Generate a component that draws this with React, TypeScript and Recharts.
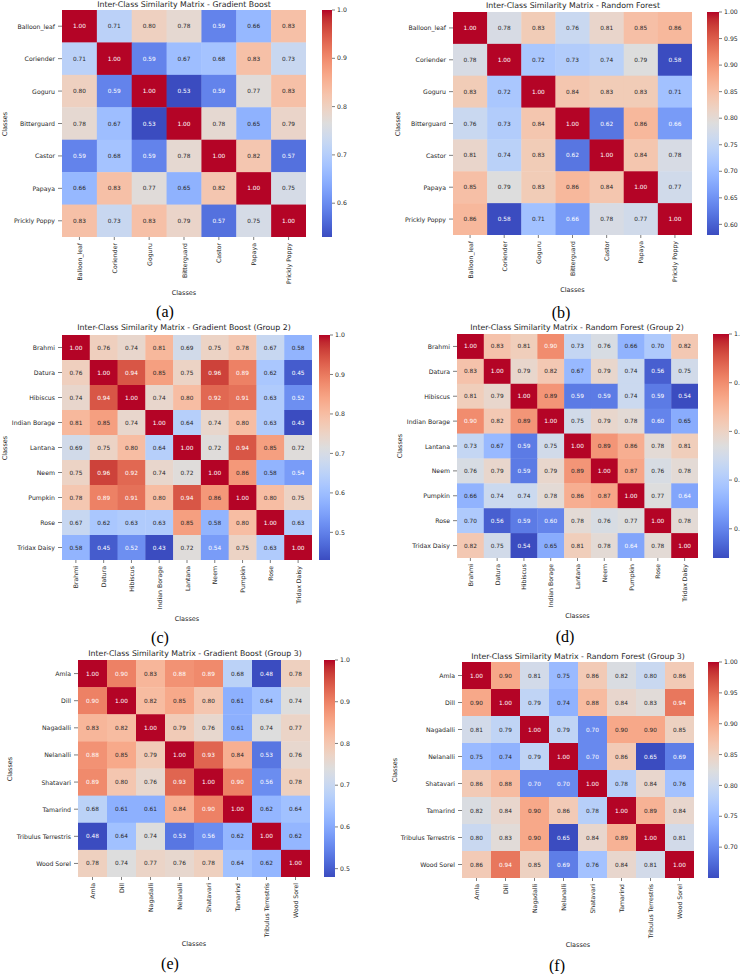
import React from "react";
import { ScatterChart, Scatter, XAxis, YAxis, BarChart, Bar } from "recharts";

// class names per plant group
const leafClasses = ["Balloon_leaf", "Coriender", "Goguru", "Bitterguard", "Castor", "Papaya", "Prickly Poppy"];
const flowerClasses = ["Brahmi", "Datura", "Hibiscus", "Indian Borage", "Lantana", "Neem", "Pumpkin", "Rose", "Tridax Daisy"];
const herbClasses = ["Amla", "Dill", "Nagadalli", "Nelanalli", "Shatavari", "Tamarind", "Tribulus Terrestris", "Wood Sorel"];

// similarity matrices (row = class, column = class)
const gbLeaf = [
  [1.0, 0.71, 0.8, 0.78, 0.59, 0.66, 0.83],
  [0.71, 1.0, 0.59, 0.67, 0.68, 0.83, 0.73],
  [0.8, 0.59, 1.0, 0.53, 0.59, 0.77, 0.83],
  [0.78, 0.67, 0.53, 1.0, 0.78, 0.65, 0.79],
  [0.59, 0.68, 0.59, 0.78, 1.0, 0.82, 0.57],
  [0.66, 0.83, 0.77, 0.65, 0.82, 1.0, 0.75],
  [0.83, 0.73, 0.83, 0.79, 0.57, 0.75, 1.0],
];
const rfLeaf = [
  [1.0, 0.78, 0.83, 0.76, 0.81, 0.85, 0.86],
  [0.78, 1.0, 0.72, 0.73, 0.74, 0.79, 0.58],
  [0.83, 0.72, 1.0, 0.84, 0.83, 0.83, 0.71],
  [0.76, 0.73, 0.84, 1.0, 0.62, 0.86, 0.66],
  [0.81, 0.74, 0.83, 0.62, 1.0, 0.84, 0.78],
  [0.85, 0.79, 0.83, 0.86, 0.84, 1.0, 0.77],
  [0.86, 0.58, 0.71, 0.66, 0.78, 0.77, 1.0],
];
const gbFlower = [
  [1.0, 0.76, 0.74, 0.81, 0.69, 0.75, 0.78, 0.67, 0.58],
  [0.76, 1.0, 0.94, 0.85, 0.75, 0.96, 0.89, 0.62, 0.45],
  [0.74, 0.94, 1.0, 0.74, 0.8, 0.92, 0.91, 0.63, 0.52],
  [0.81, 0.85, 0.74, 1.0, 0.64, 0.74, 0.8, 0.63, 0.43],
  [0.69, 0.75, 0.8, 0.64, 1.0, 0.72, 0.94, 0.85, 0.72],
  [0.75, 0.96, 0.92, 0.74, 0.72, 1.0, 0.86, 0.58, 0.54],
  [0.78, 0.89, 0.91, 0.8, 0.94, 0.86, 1.0, 0.8, 0.75],
  [0.67, 0.62, 0.63, 0.63, 0.85, 0.58, 0.8, 1.0, 0.63],
  [0.58, 0.45, 0.52, 0.43, 0.72, 0.54, 0.75, 0.63, 1.0],
];
const rfFlower = [
  [1.0, 0.83, 0.81, 0.9, 0.73, 0.76, 0.66, 0.7, 0.82],
  [0.83, 1.0, 0.79, 0.82, 0.67, 0.79, 0.74, 0.56, 0.75],
  [0.81, 0.79, 1.0, 0.89, 0.59, 0.59, 0.74, 0.59, 0.54],
  [0.9, 0.82, 0.89, 1.0, 0.75, 0.79, 0.78, 0.6, 0.65],
  [0.73, 0.67, 0.59, 0.75, 1.0, 0.89, 0.86, 0.78, 0.81],
  [0.76, 0.79, 0.59, 0.79, 0.89, 1.0, 0.87, 0.76, 0.78],
  [0.66, 0.74, 0.74, 0.78, 0.86, 0.87, 1.0, 0.77, 0.64],
  [0.7, 0.56, 0.59, 0.6, 0.78, 0.76, 0.77, 1.0, 0.78],
  [0.82, 0.75, 0.54, 0.65, 0.81, 0.78, 0.64, 0.78, 1.0],
];
const gbHerb = [
  [1.0, 0.9, 0.83, 0.88, 0.89, 0.68, 0.48, 0.78],
  [0.9, 1.0, 0.82, 0.85, 0.8, 0.61, 0.64, 0.74],
  [0.83, 0.82, 1.0, 0.79, 0.76, 0.61, 0.74, 0.77],
  [0.88, 0.85, 0.79, 1.0, 0.93, 0.84, 0.53, 0.76],
  [0.89, 0.8, 0.76, 0.93, 1.0, 0.9, 0.56, 0.78],
  [0.68, 0.61, 0.61, 0.84, 0.9, 1.0, 0.62, 0.64],
  [0.48, 0.64, 0.74, 0.53, 0.56, 0.62, 1.0, 0.62],
  [0.78, 0.74, 0.77, 0.76, 0.78, 0.64, 0.62, 1.0],
];
const rfHerb = [
  [1.0, 0.9, 0.81, 0.75, 0.86, 0.82, 0.8, 0.86],
  [0.9, 1.0, 0.79, 0.74, 0.88, 0.84, 0.83, 0.94],
  [0.81, 0.79, 1.0, 0.79, 0.7, 0.9, 0.9, 0.85],
  [0.75, 0.74, 0.79, 1.0, 0.7, 0.86, 0.65, 0.69],
  [0.86, 0.88, 0.7, 0.7, 1.0, 0.78, 0.84, 0.76],
  [0.82, 0.84, 0.9, 0.86, 0.78, 1.0, 0.89, 0.84],
  [0.8, 0.83, 0.9, 0.65, 0.84, 0.89, 1.0, 0.81],
  [0.86, 0.94, 0.85, 0.69, 0.76, 0.84, 0.81, 1.0],
];

// colorbar tick values
const cbTicksA = [0.6, 0.7, 0.8, 0.9, 1.0];
const cbTicksB = [0.6, 0.65, 0.7, 0.75, 0.8, 0.85, 0.9, 0.95, 1.0];
const cbTicksC = [0.5, 0.6, 0.7, 0.8, 0.9, 1.0];
const cbTicksD = [0.6, 0.7, 0.8, 0.9, 1.0];
const cbTicksE = [0.5, 0.6, 0.7, 0.8, 0.9, 1.0];
const cbTicksF = [0.7, 0.75, 0.8, 0.85, 0.9, 0.95, 1.0];

const panels = [
  { id: "a", title: "Inter-Class Similarity Matrix - Gradient Boost", classes: leafClasses, matrix: gbLeaf, cbTicks: cbTicksA, digits: 1 },
  { id: "b", title: "Inter-Class Similarity Matrix - Random Forest", classes: leafClasses, matrix: rfLeaf, cbTicks: cbTicksB, digits: 2 },
  { id: "c", title: "Inter-Class Similarity Matrix - Gradient Boost (Group 2)", classes: flowerClasses, matrix: gbFlower, cbTicks: cbTicksC, digits: 1 },
  { id: "d", title: "Inter-Class Similarity Matrix - Random Forest (Group 2)", classes: flowerClasses, matrix: rfFlower, cbTicks: cbTicksD, digits: 1 },
  { id: "e", title: "Inter-Class Similarity Matrix - Gradient Boost (Group 3)", classes: herbClasses, matrix: gbHerb, cbTicks: cbTicksE, digits: 1 },
  { id: "f", title: "Inter-Class Similarity Matrix - Random Forest (Group 3)", classes: herbClasses, matrix: rfHerb, cbTicks: cbTicksF, digits: 2 },
];

// page placement of each panel: heat = [left, top, right, bottom], cb = [left, right]
const layout: Record<string, any> = {
  a: { heat: [62, 10, 306, 237], cb: [322, 332], title: [184, 5], xlabelY: 293, ylabelX: 5, cap: [165, 312] },
  b: { heat: [453, 12, 692, 235], cb: [707, 719], title: [573, 6], xlabelY: 290, ylabelX: 398, cap: [561, 313] },
  c: { heat: [62, 335, 312, 560], cb: [319, 330], title: [184, 328], xlabelY: 619, ylabelX: 5, cap: [160, 638] },
  d: { heat: [457, 334, 698, 558], cb: [713, 729], title: [577, 328], xlabelY: 616, ylabelX: 400, cap: [565, 637] },
  e: { heat: [78, 660, 310, 877], cb: [324, 335], title: [195, 654], xlabelY: 944, ylabelX: 10, cap: [170, 964] },
  f: { heat: [462, 662, 694, 878], cb: [708, 719], title: [578, 657], xlabelY: 945, ylabelX: 395, cap: [557, 966] },
};

// matplotlib "coolwarm" lookup
const COOLWARM = [
  [59, 76, 192], [68, 90, 204], [77, 104, 215], [87, 117, 225], [98, 130, 234], [108, 142, 241],
  [119, 154, 247], [130, 165, 251], [141, 176, 254], [152, 185, 255], [163, 194, 255], [174, 201, 253],
  [184, 208, 249], [194, 213, 244], [204, 217, 238], [213, 219, 230], [221, 221, 221], [229, 216, 209],
  [236, 211, 197], [241, 204, 184], [245, 196, 173], [247, 187, 160], [247, 177, 148], [247, 166, 135],
  [244, 154, 123], [241, 141, 111], [236, 127, 99], [229, 112, 88], [222, 96, 77], [213, 80, 66],
  [203, 62, 56], [192, 40, 47], [180, 4, 38],
];

const coolwarmRgb = (t: number) => {
  const c = Math.max(0, Math.min(1, t)) * (COOLWARM.length - 1);
  const i = Math.min(Math.floor(c), COOLWARM.length - 2);
  const f = c - i;
  return COOLWARM[i].map((v, k) => v + (COOLWARM[i + 1][k] - v) * f);
};
const rgbStr = (rgb: number[]) => `rgb(${rgb.map((v) => Math.round(v)).join(",")})`;

// seaborn picks white or dark annotation text by luminance
const luminance = (rgb: number[]) => {
  const lin = rgb.map((v) => {
    const s = v / 255;
    return s <= 0.03928 ? s / 12.92 : Math.pow((s + 0.055) / 1.055, 2.4);
  });
  return 0.2126 * lin[0] + 0.7152 * lin[1] + 0.0722 * lin[2];
};

const FONT = "'DejaVu Sans', sans-serif";
const TXT = "#262626";
const YAXIS_W = 70;
const XAXIS_H = 64;
const CB_AXIS_W = 34;
const CB_PAD = 6;

const Heatmap = ({ p }: { p: (typeof panels)[number] }) => {
  const L = layout[p.id];
  const [hl, ht, hr, hb] = L.heat;
  const n = p.classes.length;
  const hw = hr - hl;
  const hh = hb - ht;
  const cw = hw / n;
  const ch = hh / n;
  const all = p.matrix.flat();
  const vmin = Math.min(...all);
  const vmax = Math.max(...all);
  const cells = p.matrix.flatMap((row, r) => row.map((v, c) => ({ x: c, y: r, v })));
  const idx = p.classes.map((_, i) => i);
  const gradId = `cw-${p.id}`;

  const cellShape = (props: any) => {
    const { cx, cy, payload } = props;
    const rgb = coolwarmRgb((payload.v - vmin) / (vmax - vmin));
    const txt = luminance(rgb) > 0.408 ? TXT : "#ffffff";
    return (
      <g>
        <rect x={cx - cw / 2} y={cy - ch / 2} width={cw + 0.4} height={ch + 0.4} fill={rgbStr(rgb)} />
        <text x={cx} y={cy} textAnchor="middle" dominantBaseline="central" fontSize={5.8} fontFamily={FONT} fill={txt}>
          {payload.v.toFixed(2)}
        </text>
      </g>
    );
  };

  const xTick = (props: any) => {
    const { x, y, payload } = props;
    return (
      <g transform={`translate(${x},${y})`}>
        <text transform="rotate(-90)" textAnchor="end" dominantBaseline="central" fontSize={6.2} fontFamily={FONT} fill={TXT}>
          {p.classes[payload.value]}
        </text>
      </g>
    );
  };

  const yTick = (props: any) => {
    const { x, y, payload } = props;
    return (
      <text x={x} y={y} textAnchor="end" dominantBaseline="central" fontSize={6.2} fontFamily={FONT} fill={TXT}>
        {p.classes[payload.value]}
      </text>
    );
  };

  const center: React.CSSProperties = {
    position: "absolute",
    whiteSpace: "nowrap",
    lineHeight: 1,
    fontFamily: FONT,
    color: TXT,
  };

  return (
    <>
      <div style={{ ...center, left: L.title[0], top: L.title[1], fontSize: 7.8, transform: "translate(-50%,-50%)" }}>{p.title}</div>
      <div style={{ ...center, left: (hl + hr) / 2, top: L.xlabelY, fontSize: 6.5, transform: "translate(-50%,-50%)" }}>Classes</div>
      <div
        style={{ ...center, left: L.ylabelX, top: (ht + hb) / 2, fontSize: 6.5, transform: "translate(-50%,-50%) rotate(-90deg)" }}
      >
        Classes
      </div>
      <div
        style={{
          ...center,
          left: L.cap[0],
          top: L.cap[1],
          fontSize: 16,
          fontFamily: "'Liberation Serif', serif",
          color: "#000",
          transform: "translate(-50%,-50%)",
        }}
      >
        ({p.id})
      </div>

      <div style={{ position: "absolute", left: hl - YAXIS_W, top: ht }}>
        <ScatterChart width={YAXIS_W + hw} height={hh + XAXIS_H} margin={{ top: 0, right: 0, bottom: 0, left: 0 }}>
          <XAxis
            type="number"
            dataKey="x"
            domain={[-0.5, n - 0.5]}
            ticks={idx}
            interval={0}
            allowDataOverflow
            height={XAXIS_H}
            axisLine={false}
            tickSize={3}
            tickMargin={3}
            tickLine={{ stroke: TXT, strokeWidth: 0.6 }}
            tick={xTick}
          />
          <YAxis
            type="number"
            dataKey="y"
            domain={[-0.5, n - 0.5]}
            reversed
            ticks={idx}
            interval={0}
            allowDataOverflow
            width={YAXIS_W}
            axisLine={false}
            tickSize={4}
            tickMargin={3}
            tickLine={{ stroke: TXT, strokeWidth: 0.6 }}
            tick={yTick}
          />
          <Scatter data={cells} shape={cellShape} isAnimationActive={false} />
        </ScatterChart>
      </div>

      <div style={{ position: "absolute", left: L.cb[0], top: ht - CB_PAD }}>
        <BarChart
          width={L.cb[1] - L.cb[0] + CB_AXIS_W}
          height={hh + CB_PAD * 2}
          data={[{ name: "cb", span: [vmin, vmax] }]}
          margin={{ top: CB_PAD, right: 0, bottom: CB_PAD, left: 0 }}
          barCategoryGap={0}
        >
          <defs>
            <linearGradient id={gradId} x1="0" y1="1" x2="0" y2="0">
              {COOLWARM.map((c, i) => (
                <stop key={i} offset={i / (COOLWARM.length - 1)} stopColor={rgbStr(c)} />
              ))}
            </linearGradient>
          </defs>
          <XAxis dataKey="name" hide />
          <YAxis
            type="number"
            orientation="right"
            domain={[vmin, vmax]}
            allowDataOverflow
            ticks={p.cbTicks}
            interval={0}
            width={CB_AXIS_W}
            axisLine={false}
            tickSize={3}
            tickMargin={2}
            tickLine={{ stroke: TXT, strokeWidth: 0.6 }}
            tickFormatter={(v: number) => v.toFixed(p.digits)}
            tick={{ fontSize: 6.2, fontFamily: FONT, fill: TXT }}
          />
          <Bar dataKey="span" fill={`url(#${gradId})`} isAnimationActive={false} />
        </BarChart>
      </div>
    </>
  );
};

export default function App() {
  return (
    <div style={{ position: "absolute", left: 0, top: 0, width: 740, height: 974, overflow: "hidden", background: "#fff" }}>
      {panels.map((p) => (
        <Heatmap key={p.id} p={p} />
      ))}
    </div>
  );
}
